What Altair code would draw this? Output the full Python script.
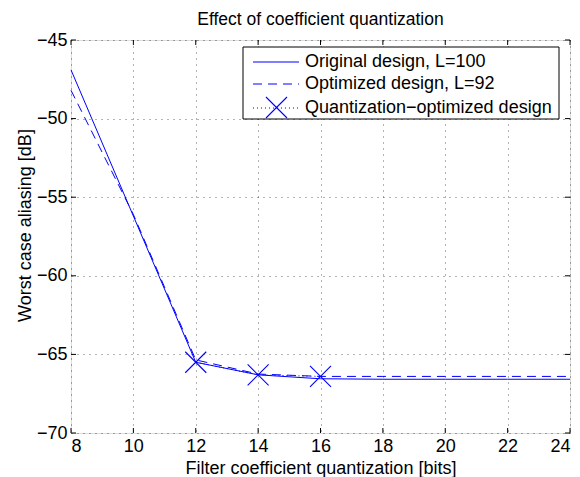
import altair as alt
import pandas as pd

# ---- data ----
bits = [8, 10, 12, 14, 16, 18, 20, 22, 24]
original = [-46.9, -56.2, -65.5, -66.3, -66.55, -66.58, -66.58, -66.58, -66.58]
optimized = [-48.2, -56.1, -65.35, -66.25, -66.4, -66.4, -66.4, -66.4, -66.4]
q_bits = [12, 14, 16]
q_vals = [-65.5, -66.3, -66.4]

x_ticks = [8, 10, 12, 14, 16, 18, 20, 22, 24]
y_ticks = [-70, -65, -60, -55, -50, -45]
legend_labels = ["Original design, L=100", "Optimized design, L=92",
                 "Quantization\u2212optimized design"]

W, H = 499, 393
FONT = "Liberation Sans"
FS = 18
BLUE = "#0000ff"
XSHAPE = "M-1,-1L1,1M-1,1L1,-1"

df_orig = pd.DataFrame({"x": bits, "y": original})
df_opt = pd.DataFrame({"x": bits, "y": optimized})
df_q = pd.DataFrame({"x": q_bits, "y": q_vals})
df_xt = pd.DataFrame({"x": x_ticks})
df_yt = pd.DataFrame({"y": y_ticks})

xs = alt.Scale(domain=[8, 24], nice=False, zero=False)
ys = alt.Scale(domain=[-70, -45], nice=False, zero=False)

common_axis = dict(grid=True, gridDash=[1, 5], gridColor="black", gridOpacity=0.6,
                   ticks=False, domain=False, labelFontSize=FS, titleFontSize=FS,
                   titleFontWeight="normal", labelFont=FONT, titleFont=FONT,
                   labelColor="black", titleColor="black")
xaxis = alt.Axis(values=x_ticks, title="Filter coefficient quantization [bits]",
                 labelPadding=4, titlePadding=4, **common_axis)
yaxis = alt.Axis(values=y_ticks, title="Worst case aliasing [dB]",
                 labelPadding=4, titlePadding=2, titleY=185, **common_axis)

X = alt.X("x:Q", scale=xs, axis=xaxis)
Y = alt.Y("y:Q", scale=ys, axis=yaxis)
blue = alt.value(BLUE)

line_orig = alt.Chart(df_orig).mark_line(strokeWidth=1).encode(x=X, y=Y, color=blue)
line_opt = alt.Chart(df_opt).mark_line(strokeWidth=1, strokeDash=[9, 6]).encode(
    x=X, y=Y, color=blue)
line_q = alt.Chart(df_q).mark_line(strokeWidth=1, strokeDash=[1, 3]).encode(
    x=X, y=Y, color=blue)
pts_q = alt.Chart(df_q).mark_point(shape=XSHAPE, size=441, filled=False,
                                   strokeWidth=1.1, opacity=1).encode(x=X, y=Y, color=blue)

TL = 5
black = alt.value("black")
xt_bot = alt.Chart(df_xt).mark_rule(strokeWidth=1).encode(
    x=X, y=alt.value(H), y2=alt.value(H - TL), color=black)
xt_top = alt.Chart(df_xt).mark_rule(strokeWidth=1).encode(
    x=X, y=alt.value(0), y2=alt.value(TL), color=black)
yt_left = alt.Chart(df_yt).mark_rule(strokeWidth=1).encode(
    y=Y, x=alt.value(0), x2=alt.value(TL), color=black)
yt_right = alt.Chart(df_yt).mark_rule(strokeWidth=1).encode(
    y=Y, x=alt.value(W), x2=alt.value(W - TL), color=black)

# ---- manual legend (MATLAB style) ----
one = pd.DataFrame({"k": [0]})
LX0, LX1, LY0, LY1 = 172, 488, 7, 79
rows = [22, 44, 68]
leg_box = alt.Chart(one).mark_rect(fill="white", stroke="black", strokeWidth=1).encode(
    x=alt.value(LX0), x2=alt.value(LX1), y=alt.value(LY0), y2=alt.value(LY1))
leg_l1 = alt.Chart(one).mark_rule(strokeWidth=1).encode(
    x=alt.value(182), x2=alt.value(228), y=alt.value(rows[0]), color=blue)
leg_l2 = alt.Chart(one).mark_rule(strokeWidth=1, strokeDash=[9, 6]).encode(
    x=alt.value(182), x2=alt.value(228), y=alt.value(rows[1]), color=blue)
leg_l3 = alt.Chart(one).mark_rule(strokeWidth=1, strokeDash=[1, 3]).encode(
    x=alt.value(182), x2=alt.value(228), y=alt.value(rows[2]), color=blue)
leg_p3 = alt.Chart(one).mark_point(shape=XSHAPE, size=441, filled=False,
                                   strokeWidth=1.1, opacity=1).encode(
    x=alt.value(205.5), y=alt.value(rows[2] - 0.5), color=blue)
leg_txt = [
    alt.Chart(one).mark_text(align="left", baseline="middle", font=FONT, fontSize=FS,
                             fill="black").encode(
        x=alt.value(234), y=alt.value(r - 0.5), text=alt.value(t))
    for r, t in zip(rows, legend_labels)
]

chart = alt.layer(
    line_orig, line_opt, line_q, pts_q,
    xt_bot, xt_top, yt_left, yt_right,
    leg_box, leg_l1, leg_l2, leg_l3, leg_p3, *leg_txt,
).properties(
    width=W, height=H,
    title=alt.TitleParams("Effect of coefficient quantization", font=FONT, fontSize=17.5,
                          fontWeight="normal", color="black", offset=3),
    autosize=alt.AutoSizeParams(type="none"),
    padding={"left": 71, "top": 40, "right": 10, "bottom": 44},
).configure_view(stroke="black", strokeWidth=1).configure(background="white")

chart.save("out.html", embed_options={"renderer": "svg", "actions": False})
